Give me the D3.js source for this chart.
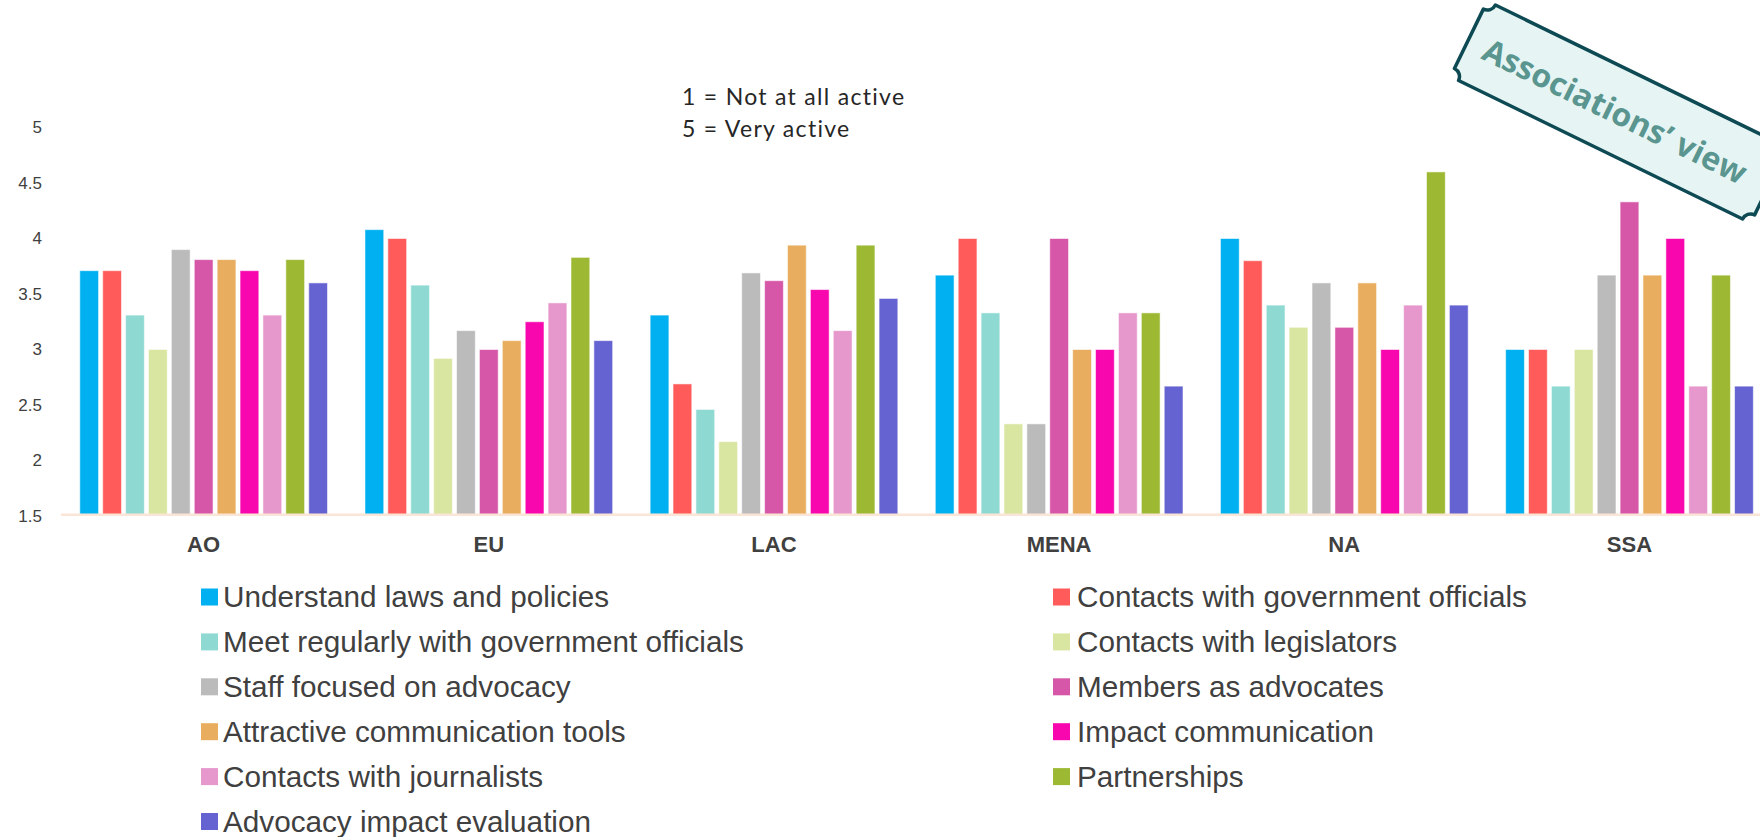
<!DOCTYPE html>
<html>
<head>
<meta charset="utf-8">
<script src="https://cdn.jsdelivr.net/npm/d3@7"></script>
<style>
  html, body { margin: 0; padding: 0; background: #ffffff; }
  svg { display: block; }
</style>
</head>
<body>
<svg id="chart" width="1760" height="837"></svg>
<script>
// Regions on the x axis
const regions = ["AO", "EU", "LAC", "MENA", "NA", "SSA"];

// Advocacy activities (one bar per activity in every region)
const activities = [
  "Understand laws and policies",
  "Contacts with government officials",
  "Meet regularly with government officials",
  "Contacts with legislators",
  "Staff focused on advocacy",
  "Members as advocates",
  "Attractive communication tools",
  "Impact communication",
  "Contacts with journalists",
  "Partnerships",
  "Advocacy impact evaluation"
];

const activityColors = [
  "#00b0f0", "#ff5b5b", "#8fd9d3", "#d9e6a2", "#bbbbbb", "#d657a8",
  "#e8ad5e", "#f707ad", "#e697cb", "#9db832", "#6563d1"
];

// Average activity score per region, in activity order
const scoresAO   = [3.71, 3.71, 3.31, 3.00, 3.90, 3.81, 3.81, 3.71, 3.31, 3.81, 3.60];
const scoresEU   = [4.08, 4.00, 3.58, 2.92, 3.17, 3.00, 3.08, 3.25, 3.42, 3.83, 3.08];
const scoresLAC  = [3.31, 2.69, 2.46, 2.17, 3.69, 3.62, 3.94, 3.54, 3.17, 3.94, 3.46];
const scoresMENA = [3.67, 4.00, 3.33, 2.33, 2.33, 4.00, 3.00, 3.00, 3.33, 3.33, 2.67];
const scoresNA   = [4.00, 3.80, 3.40, 3.20, 3.60, 3.20, 3.60, 3.00, 3.40, 4.60, 3.40];
const scoresSSA  = [3.00, 3.00, 2.67, 3.00, 3.67, 4.33, 3.67, 4.00, 2.67, 3.67, 2.67];

const yTicks = [1.5, 2, 2.5, 3, 3.5, 4, 4.5, 5];
const scaleNote = ["1 = Not at all active", "5 = Very active"];
const badgeText = "Associations\u2019 view";

const scoresByRegion = [scoresAO, scoresEU, scoresLAC, scoresMENA, scoresNA, scoresSSA];
const rows = regions.map((r, i) => ({
  region: r,
  bars: activities.map((a, j) => ({ activity: a, color: activityColors[j], value: scoresByRegion[i][j] }))
}));

const svg = d3.select("#chart");
const textColor = "#404040";

// Scales
const x0 = d3.scaleBand().domain(regions).range([61, 1772]).padding(0);
const x1 = d3.scaleBand().domain(activities).range([18.8, 266.5]).paddingInner(0.18).paddingOuter(0);
const y = d3.scaleLinear().domain([1.5, 5]).range([516, 127.5]);

// Y axis labels (no line, no ticks)
const yAxis = svg.append("g")
  .attr("transform", "translate(42,0)")
  .call(d3.axisLeft(y).tickValues(yTicks).tickSize(0).tickPadding(0).tickFormat(d3.format("")));
yAxis.select(".domain").remove();
yAxis.selectAll("text")
  .attr("fill", textColor)
  .style("font-family", "'Liberation Sans', Arial, sans-serif")
  .style("font-size", "17px");

// Bars
const groups = svg.append("g").selectAll("g")
  .data(rows)
  .join("g")
  .attr("transform", d => `translate(${x0(d.region)},0)`);

groups.selectAll("rect")
  .data(d => d.bars)
  .join("rect")
  .attr("x", d => x1(d.activity))
  .attr("width", x1.bandwidth())
  .attr("y", d => y(d.value))
  .attr("height", d => y(1.5) - y(d.value))
  .attr("fill", d => d.color)
  .attr("stroke", "#ffffff")
  .attr("stroke-opacity", 0.55)
  .attr("stroke-width", 1);

// Baseline
svg.append("line")
  .attr("x1", 61).attr("x2", 1760)
  .attr("y1", y(1.5) - 1.2).attr("y2", y(1.5) - 1.2)
  .attr("stroke", "#fbe5d6")
  .attr("stroke-width", 2.5);

// Region labels
const xAxis = svg.append("g")
  .attr("transform", `translate(0,${y(1.5)})`)
  .call(d3.axisBottom(x0).tickSize(0).tickPadding(0));
xAxis.select(".domain").remove();
xAxis.selectAll("text")
  .attr("y", 0)
  .attr("dy", 0)
  .attr("transform", "translate(0,35.5)")
  .attr("fill", textColor)
  .style("font-family", "'Liberation Sans', Arial, sans-serif")
  .style("font-size", "22px")
  .style("font-weight", "bold");

// Legend in two columns
const legendCols = [{ sx: 201, tx: 223 }, { sx: 1053, tx: 1077 }];
const legend = svg.append("g").selectAll("g")
  .data(activities)
  .join("g")
  .attr("transform", (d, i) => `translate(0,${597 + Math.floor(i / 2) * 44.9})`);
legend.append("rect")
  .attr("x", (d, i) => legendCols[i % 2].sx)
  .attr("y", -8.5)
  .attr("width", 17)
  .attr("height", 17)
  .attr("fill", (d, i) => activityColors[i]);
legend.append("text")
  .attr("x", (d, i) => legendCols[i % 2].tx)
  .attr("dy", "0.35em")
  .attr("fill", textColor)
  .style("font-family", "'Liberation Sans', Arial, sans-serif")
  .style("font-size", "29.7px")
  .text(d => d);

// Scale note
svg.append("g").selectAll("text")
  .data(scaleNote)
  .join("text")
  .attr("x", 682)
  .attr("y", (d, i) => 104.5 + i * 32.2)
  .attr("fill", "#262626")
  .style("font-family", "Lato, 'Open Sans', sans-serif")
  .style("font-size", "23px")
  .style("letter-spacing", "1.3px")
  .text(d => d);

// Ticket-shaped badge with concave corners
const bw = 334, bh = 84, br = 9;
const ticketPath = [
  `M${-bw / 2 + br},${-bh / 2}`,
  `L${bw / 2 - br},${-bh / 2}`,
  `A${br},${br} 0 0 0 ${bw / 2},${-bh / 2 + br}`,
  `L${bw / 2},${bh / 2 - br}`,
  `A${br},${br} 0 0 0 ${bw / 2 - br},${bh / 2}`,
  `L${-bw / 2 + br},${bh / 2}`,
  `A${br},${br} 0 0 0 ${-bw / 2},${bh / 2 - br}`,
  `L${-bw / 2},${-bh / 2 + br}`,
  `A${br},${br} 0 0 0 ${-bw / 2 + br},${-bh / 2}`,
  "Z"
].join(" ");

const badge = svg.append("g")
  .attr("transform", "translate(1619,112) rotate(26)");
badge.append("path")
  .attr("d", ticketPath)
  .attr("fill", "#e6f5f4")
  .attr("stroke", "#0e4a54")
  .attr("stroke-width", 3.5)
  .attr("stroke-linejoin", "round");
badge.append("text")
  .attr("x", -4)
  .attr("y", 1)
  .attr("dy", "0.36em")
  .attr("text-anchor", "middle")
  .attr("fill", "#5a9590")
  .style("font-family", "'Open Sans', sans-serif")
  .style("font-weight", "bold")
  .style("font-size", "32px")
  .text(badgeText);
</script>
</body>
</html>
